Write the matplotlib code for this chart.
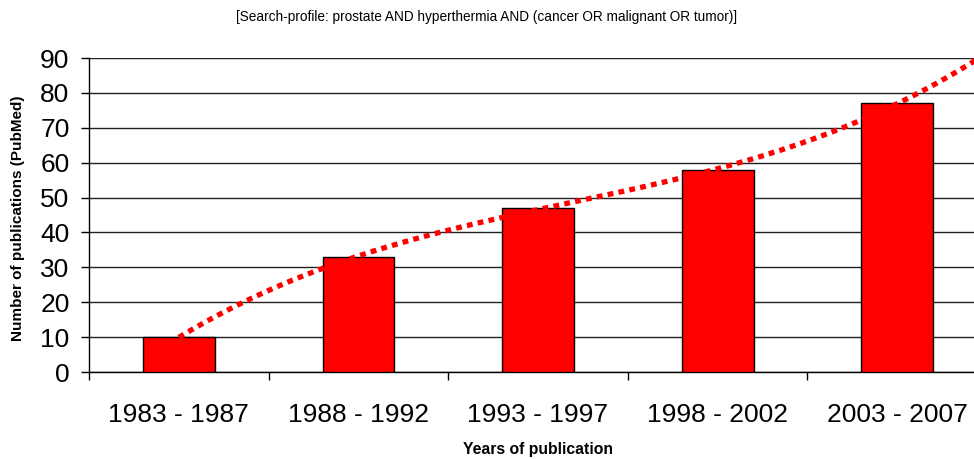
import numpy as np
import matplotlib
matplotlib.use('Agg')
import matplotlib.pyplot as plt

plt.rcParams['font.family'] = ['Liberation Sans', 'DejaVu Sans']

# data
periods = ['1983 - 1987', '1988 - 1992', '1993 - 1997', '1998 - 2002', '2003 - 2007']
counts = [10, 33, 47, 58, 77]

title = '[Search-profile: prostate AND hyperthermia AND (cancer OR malignant OR tumor)]'

fig = plt.figure(figsize=(9.74, 4.59), dpi=100)
ax = fig.add_axes([0.0914, 0.1895, 0.922, 0.684])

x = np.arange(len(periods))
ax.bar(x, counts, width=0.4, color='#ff0000', edgecolor='black', linewidth=1, zorder=3)

# polynomial (3rd order) trendline, forecast half a category forward, like Excel
coef = np.polyfit(x, counts, 3)
xt = np.linspace(0, len(periods) - 0.5, 200)
ax.plot(xt, np.polyval(coef, xt), color='#ff0000', linewidth=3.8,
        linestyle=(0, (1.1, 1.0)), dash_capstyle='butt', zorder=4, clip_on=False)

ax.set_xlim(-0.5, len(periods) - 0.5)
ax.set_ylim(0, 90)
ax.set_yticks(np.arange(0, 91, 10))
ax.yaxis.grid(True, color='#222222', linewidth=1)
ax.set_axisbelow(True)

# category boundaries as ticks, labels at centres
ax.set_xticks(np.arange(-0.5, len(periods), 1.0))
ax.set_xticklabels([])
ax.set_xticks(x, minor=True)
ax.set_xticklabels(periods, minor=True, fontsize=19)
ax.tick_params(axis='x', which='major', length=6, width=1, direction='out')
ax.tick_params(axis='x', which='minor', length=0, pad=22)
ax.tick_params(axis='y', length=6, width=1, direction='out', labelsize=19, pad=8)

for s in ['top', 'right']:
    ax.spines[s].set_visible(False)
ax.spines['left'].set_linewidth(1)
ax.spines['bottom'].set_linewidth(1)

ax.set_ylabel('Number of publications (PubMed)', fontsize=11, fontweight='bold')
ax.yaxis.set_label_coords(-0.071, 0.49)
ax.set_xlabel('Years of publication', fontsize=11.3, fontweight='bold')
ax.xaxis.set_label_coords(0.5, -0.222)

fig.text(0.5, 0.962, title, ha='center', va='center', fontsize=9.8)

fig.savefig('out.png', dpi=100)
